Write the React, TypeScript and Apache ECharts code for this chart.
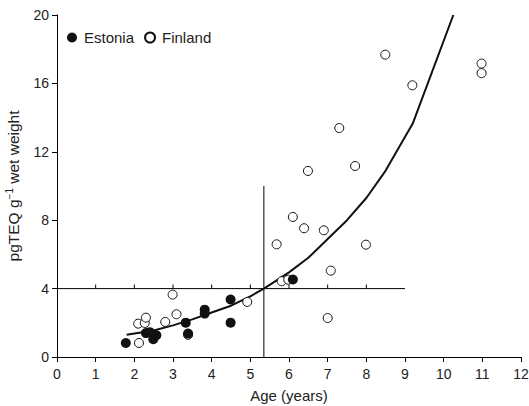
import React, { useEffect, useRef } from "react";
import * as echarts from "echarts";

// Estonia (filled circles): age (years), pgTEQ g-1 wet weight
const estoniaX = [1.78, 2.3, 2.4, 2.49, 2.57, 3.33, 3.39, 3.82, 3.82, 4.49, 4.49, 6.1];
const estoniaY = [0.82, 1.4, 1.45, 1.04, 1.27, 2.01, 1.37, 2.77, 2.54, 3.36, 2.01, 4.53];

// Finland (open circles)
const finlandX = [2.12, 2.1, 2.27, 2.3, 2.8, 2.99, 3.09, 3.39, 4.92, 5.68, 5.81, 5.98, 6.1, 6.39, 6.49, 6.9, 7.0, 7.08, 7.3, 7.71, 7.99, 8.49, 9.19, 10.98, 10.98];
const finlandY = [0.82, 1.95, 1.99, 2.3, 2.05, 3.65, 2.5, 1.3, 3.22, 6.59, 4.43, 4.52, 8.19, 7.53, 10.88, 7.41, 2.28, 5.05, 13.39, 11.17, 6.57, 17.68, 15.89, 17.16, 16.6];

// Fitted curve
const curveX = [1.8, 2.5, 3.0, 3.5, 4.0, 4.5, 5.0, 5.35, 6.0, 6.5, 7.0, 7.5, 8.0, 8.5, 9.2, 10.25];
const curveY = [1.3, 1.55, 1.85, 2.2, 2.6, 3.0, 3.55, 4.0, 4.95, 5.8, 6.9, 8.0, 9.3, 10.9, 13.65, 20];

// Reference lines
const refHX = [0, 9];
const refHY = 4;
const refVX = 5.35;
const refVY = [0, 10];
const refHTicks = [1, 2, 3, 4, 5, 6, 7, 8];

const xTicks = [0, 12, 1];
const yTicks = [0, 20, 4];

const FONT = "'Liberation Sans', Arial, sans-serif";
const TXT = "#222";

export default function App() {
  const ref = useRef<HTMLDivElement>(null);
  useEffect(() => {
    if (!ref.current) return;
    const chart = echarts.init(ref.current, null, { renderer: "svg" });
    const zip = (xs: number[], ys: number[]) => xs.map((x, i) => [x, ys[i]]);
    chart.setOption({
      animation: false,
      backgroundColor: "#fff",
      textStyle: { fontFamily: FONT },
      grid: { left: 57, right: 8, top: 15, bottom: 49, containLabel: false, outerBoundsMode: "none" },
      legend: {
        left: 62,
        top: 25,
        itemWidth: 10,
        itemHeight: 10,
        itemGap: 10,
        textStyle: { fontSize: 15, color: TXT, fontFamily: FONT, padding: [0, 0, 0, 2] },
        data: [
          { name: "Estonia", icon: "circle" },
          { name: "Finland", icon: "circle" },
        ],
      },
      xAxis: {
        type: "value",
        min: xTicks[0],
        max: xTicks[1],
        interval: xTicks[2],
        name: "Age (years)",
        nameLocation: "middle",
        nameGap: 31,
        nameTextStyle: { fontSize: 15, color: TXT, fontFamily: FONT },
        axisLine: { onZero: false, lineStyle: { color: "#000", width: 1 } },
        axisTick: { show: true, length: 5, lineStyle: { color: "#000" } },
        axisLabel: { fontSize: 14, color: TXT, margin: 10, fontFamily: FONT },
        splitLine: { show: false },
      },
      yAxis: {
        type: "value",
        min: yTicks[0],
        max: yTicks[1],
        interval: yTicks[2],
        name: "pgTEQ g{sup|−1} wet weight",
        nameLocation: "middle",
        nameGap: 30,
        nameTextStyle: {
          fontSize: 15.5,
          color: TXT,
          fontFamily: FONT,
          lineHeight: 18,
          rich: {
            sup: { fontSize: 10, color: TXT, fontFamily: FONT, verticalAlign: "top", lineHeight: 18 },
          },
        },
        axisLine: { onZero: false, lineStyle: { color: "#000", width: 1 } },
        axisTick: { show: true, length: 5, lineStyle: { color: "#000" } },
        axisLabel: { fontSize: 14, color: TXT, margin: 8, fontFamily: FONT },
        splitLine: { show: false },
      },
      series: [
        {
          type: "line",
          name: "refH",
          data: refHX.map((x) => [x, refHY]),
          symbol: "none",
          lineStyle: { color: "#000", width: 1 },
          z: 1,
          silent: true,
        },
        {
          type: "scatter",
          name: "refHTicks",
          data: refHTicks.map((x) => [x, refHY]),
          symbol: "rect",
          symbolSize: [1, 4],
          symbolOffset: [0, -2],
          itemStyle: { color: "#000", opacity: 1 },
          z: 1,
          silent: true,
        },
        {
          type: "line",
          name: "refV",
          data: refVY.map((y) => [refVX, y]),
          symbol: "none",
          lineStyle: { color: "#000", width: 1 },
          z: 1,
          silent: true,
        },
        {
          type: "line",
          name: "fit",
          data: zip(curveX, curveY),
          symbol: "none",
          lineStyle: { color: "#111", width: 2 },
          z: 2,
          silent: true,
        },
        {
          type: "scatter",
          name: "Finland",
          data: zip(finlandX, finlandY),
          symbol: "circle",
          symbolSize: 9,
          itemStyle: { color: "#fff", borderColor: "#111", borderWidth: 1, opacity: 1 },
          z: 3,
        },
        {
          type: "scatter",
          name: "Estonia",
          data: zip(estoniaX, estoniaY),
          symbol: "circle",
          symbolSize: 10,
          itemStyle: { color: "#111", opacity: 1 },
          z: 4,
        },
      ],
    });
    return () => chart.dispose();
  }, []);
  return <div ref={ref} style={{ width: 529, height: 406, position: "absolute", left: 0, top: 0 }} />;
}
